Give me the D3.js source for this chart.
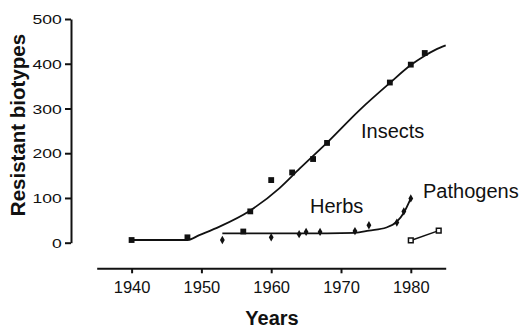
<!DOCTYPE html>
<html>
<head>
<meta charset="utf-8">
<script src="https://cdn.jsdelivr.net/npm/d3@7"></script>
<style>
  html, body { margin: 0; padding: 0; background: #fff; }
  svg { display: block; }
  text { font-family: "Liberation Sans", Arial, Helvetica, sans-serif; fill: #111; }
</style>
</head>
<body>
<svg id="chart" width="520" height="327"></svg>
<script>
// Observed counts of resistant biotypes per year
const insectYears  = [1940, 1948, 1956, 1957, 1960, 1963, 1966, 1968, 1977, 1980, 1982];
const insectValues = [6, 12, 25, 70, 140, 157, 187, 223, 358, 398, 424];

const herbYears  = [1953, 1960, 1964, 1965, 1967, 1972, 1974, 1978, 1979, 1980];
const herbValues = [6, 12, 19, 24, 24, 26, 39, 45, 70, 99];

const pathogenYears  = [1980, 1984];
const pathogenValues = [5, 27];

// Fitted trend lines
const insectFitYears  = [1940, 1948, 1949.7, 1952.6, 1956.9, 1961.2, 1964.1, 1967.9, 1972.7, 1977, 1980, 1982, 1983.5, 1985];
const insectFitValues = [6, 6, 17, 36, 71, 122, 166, 222, 297, 357, 397, 418, 431, 441];

const herbFitYears  = [1953, 1960, 1968, 1972, 1974, 1976.5, 1978, 1979, 1980];
const herbFitValues = [21, 21, 21, 22, 27, 34, 47, 67, 99];

const xTicks = [1940, 1950, 1960, 1970, 1980];
const yTicks = [0, 100, 200, 300, 400, 500];

const svg = d3.select("#chart");

const x = d3.scaleLinear().domain([1935, 1985]).range([96.7, 445.7]);
const y = d3.scaleLinear().domain([0, 500]).range([242.7, 19]);

// Y axis (offset from the x axis)
const yAxis = svg.append("g")
  .attr("transform", "translate(71,0)")
  .call(d3.axisLeft(y).tickValues(yTicks).tickSize(6).tickSizeOuter(0));
yAxis.select(".domain").attr("stroke", "#111").attr("stroke-width", 2);
yAxis.selectAll(".tick line").attr("stroke", "#111").attr("stroke-width", 2);
yAxis.selectAll(".tick text")
  .attr("x", null).attr("dy", "0.36em")
  .attr("transform", "translate(-9.3,0) scale(1.35,1)")
  .style("font-size", "13px")
  .attr("fill", "#111");

// X axis
const xAxis = svg.append("g")
  .attr("transform", "translate(0,268.3)")
  .call(d3.axisBottom(x).tickValues(xTicks).tickFormat(d3.format("d")).tickSize(5).tickSizeOuter(0));
xAxis.select(".domain").attr("stroke", "#111").attr("stroke-width", 2);
xAxis.selectAll(".tick line").attr("stroke", "#111").attr("stroke-width", 2);
xAxis.selectAll(".tick text")
  .attr("y", 25).attr("dy", 0)
  .style("font-size", "16.5px")
  .attr("fill", "#111");

// Axis titles
svg.append("text")
  .attr("x", 272).attr("y", 324.5)
  .attr("text-anchor", "middle")
  .style("font-size", "20px").style("font-weight", "bold")
  .text("Years");

svg.append("text")
  .attr("transform", "translate(25,125) rotate(-90)")
  .attr("text-anchor", "middle")
  .style("font-size", "20.5px").style("font-weight", "bold")
  .text("Resistant biotypes");

// Trend lines
const line = d3.line().x(d => x(d[0])).y(d => y(d[1])).curve(d3.curveMonotoneX);
const zip = (a, b) => a.map((v, i) => [v, b[i]]);

svg.append("path")
  .datum(zip(insectFitYears, insectFitValues))
  .attr("d", line).attr("fill", "none").attr("stroke", "#111").attr("stroke-width", 1.8);

svg.append("path")
  .datum(zip(herbFitYears, herbFitValues))
  .attr("d", line).attr("fill", "none").attr("stroke", "#111").attr("stroke-width", 1.8);

svg.append("path")
  .datum(zip(pathogenYears, pathogenValues))
  .attr("d", d3.line().x(d => x(d[0])).y(d => y(d[1])))
  .attr("fill", "none").attr("stroke", "#111").attr("stroke-width", 1.5);

// Markers
const sq = d3.symbol().type(d3.symbolSquare).size(34);
const dia = d3.symbol().type(d3.symbolDiamond).size(20);

svg.append("g").selectAll("path")
  .data(zip(insectYears, insectValues))
  .join("path")
  .attr("transform", d => `translate(${x(d[0])},${y(d[1])})`)
  .attr("d", sq).attr("fill", "#111");

svg.append("g").selectAll("path")
  .data(zip(herbYears, herbValues))
  .join("path")
  .attr("transform", d => `translate(${x(d[0])},${y(d[1])})`)
  .attr("d", dia).attr("fill", "#111");

svg.append("g").selectAll("path")
  .data(zip(pathogenYears, pathogenValues))
  .join("path")
  .attr("transform", d => `translate(${x(d[0])},${y(d[1])})`)
  .attr("d", d3.symbol().type(d3.symbolSquare).size(22))
  .attr("fill", "#fff").attr("stroke", "#111").attr("stroke-width", 1.5);

// Series labels
const labels = [
  { text: "Insects",   x: 361, y: 137.5 },
  { text: "Herbs",     x: 310, y: 213.3 },
  { text: "Pathogens", x: 423, y: 198.3 }
];
svg.append("g").selectAll("text")
  .data(labels)
  .join("text")
  .attr("x", d => d.x).attr("y", d => d.y)
  .style("font-size", "20px")
  .text(d => d.text);
</script>
</body>
</html>
